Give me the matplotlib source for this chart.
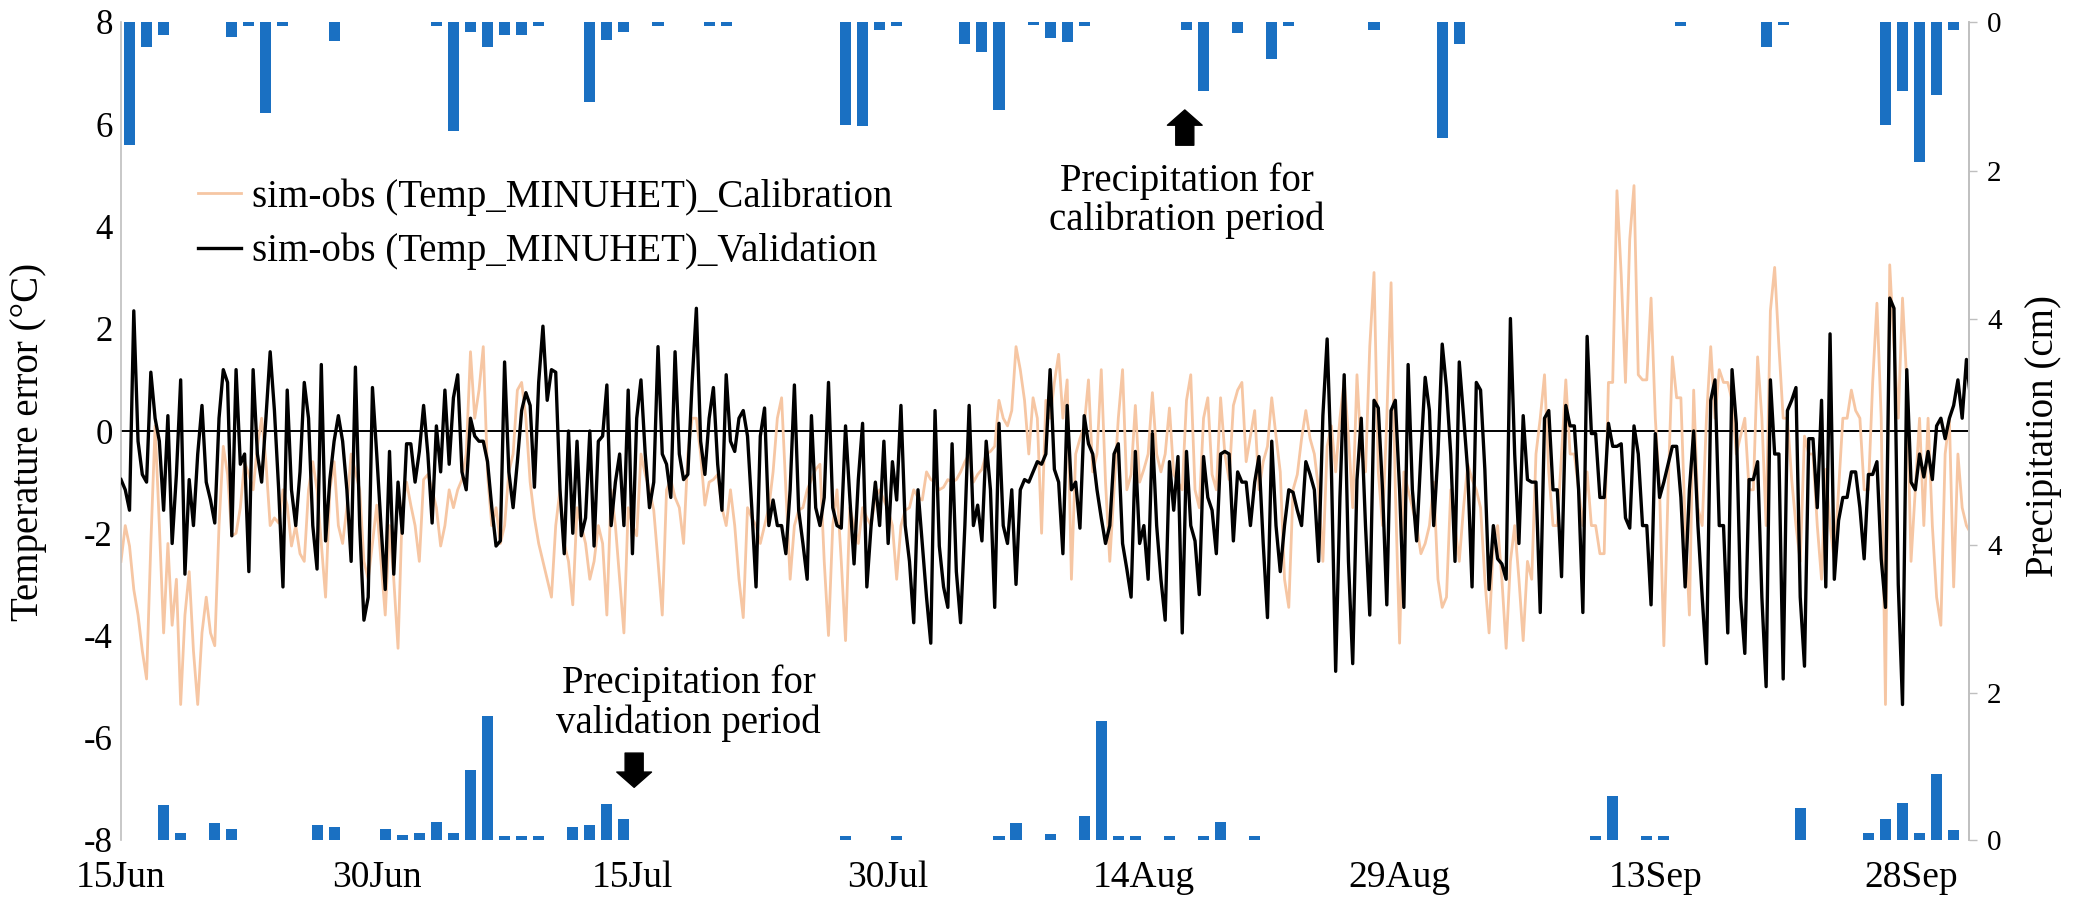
import numpy as np
import matplotlib
matplotlib.use("Agg")
import matplotlib.pyplot as plt

plt.rcParams['font.family'] = 'serif'
plt.rcParams['font.serif'] = ['Liberation Serif', 'Times New Roman', 'DejaVu Serif']

# ---------------- data ----------------
# temperature error (sim - obs), read every 6 h, starting 15 Jun 00:00
STEP_DAYS = 0.25

val_seg1 = [-0.95, -1.15, -1.55, 2.35, -0.2, -0.85, -1.0, 1.15, 0.25, -0.2,
            -1.55, 0.3, -2.2, -0.85, 1.0, -2.8, -0.95, -1.85, -0.45, 0.5,
            -1.0, -1.35, -1.8, 0.25, 1.2, 0.95, -2.05, 1.2, -0.65, -0.45,
            -2.75, 1.2, -0.45, -1.0, 0.25, 1.55, 0.4, -1.15, -3.05, 0.8,
            -1.15, -1.85, -0.8, 0.95, 0.25, -1.85, -2.7, 1.3, -2.15, -0.95,
            -0.2, 0.3, -0.2, -1.15, -2.55, 1.25, -1.85, -3.7, -3.25, 0.85,
            -0.45, -1.85, -3.1, -0.4, -2.8, -1.0, -2.0, -0.25, -0.25, -1.0,
            -0.4, 0.5, -0.45, -1.8, 0.1, -0.8, 0.8, -0.65, 0.65, 1.1,
            -0.8, -1.15, 0.25, -0.1, -0.2, -0.2, -0.6, -1.5, -2.25, -2.15,
            1.35, -0.8, -1.5, -0.6, 0.4, 0.75, 0.5, -1.1, 0.95, 2.05,
            0.6, 1.2, 1.15, -1.15, -2.4, 0.0, -2.0, -0.2, -2.05, -1.7,
            0.0, -2.25, -0.2]
val_seg2 = [-0.1, 0.9, -1.85, -1.0, -0.45, -1.85, 0.8, -2.4, 0.25, 1.0,
            -0.45, -1.5, -1.0, 1.65, -0.45, -0.65, -1.3, 1.55, -0.45, -0.95,
            -0.85, 0.95, 2.4, -0.2, -0.85, 0.25, 0.85, -0.65, -1.55, 1.1,
            -0.2, -0.4, 0.25, 0.4, -0.1, -1.5, -3.05, -0.1, 0.45, -1.85,
            -1.35, -1.85, -1.85, -2.4, -1.15, 0.9, -1.55, -2.2, -2.9, 0.3,
            -1.5, -1.85, -1.3, 0.95, -1.5, -1.85, -1.9, 0.1, -1.3, -2.6,
            -0.95, 0.15, -3.05, -1.85, -1.0, -1.85, -0.2, -2.2, -0.6, -1.35,
            0.5, -1.85, -2.55, -3.75, -1.15, -2.2, -3.25, -4.15, 0.4, -2.25,
            -3.05, -3.45, -0.25, -2.75, -3.75, -1.85, 0.5, -1.85, -1.45, -2.15,
            -0.2, -1.15, -3.45, 0.15, -1.85, -2.2, -1.15, -3.0, -1.15, -0.95,
            -1.0, -0.8, -0.6, -0.65, -0.45, 1.2, -0.75, -1.0, -2.4]
val_seg3 = [0.5, -1.15, -1.0, -1.9, 0.3, -0.25, -0.45, -1.15, -1.7, -2.2,
            -1.85, -0.45, -0.25, -2.2, -2.7, -3.25, -0.4, -2.2, -1.85, -2.9,
            -0.05, -1.85, -2.9, -3.7, -0.6, -1.55, -0.5, -3.95, -0.4, -1.85,
            -2.15, -3.2, -0.5, -1.3, -1.55, -2.4, -0.45, -0.4, -0.45, -2.15,
            -0.8, -1.0, -1.0, -1.85, -1.0, -0.5, -2.2, -3.65, -0.2, -1.85,
            -2.75, -1.85, -1.15, -1.2, -1.55, -1.85, -0.6, -0.85, -1.15, -2.55,
            0.3, 1.8, -0.75, -4.7, -1.3, 1.1, -2.55, -4.55, -0.95, 0.25,
            -1.85, -3.6, 0.6, 0.45, -1.15, -3.4, 0.4, 0.6, -1.15, -3.45,
            1.3, -1.15, -2.15, -0.45, 1.05, 0.4, -1.85, -0.45, 1.7, 0.85,
            -0.45, -2.55, 1.35, 0.3, -0.8, -3.05, 0.95, 0.8, -0.75, -3.1,
            -1.85, -2.5, -2.6, -2.9, 2.2, -0.45, -2.2, 0.3, -0.95, -1.0]
val_seg4 = [-1.0, -3.55, 0.25, 0.4, -1.15, -1.15, -2.85, 0.5, 0.1, 0.1,
            -1.15, -3.55, 1.85, -0.05, -0.05, -1.3, -1.3, 0.15, -0.3, -0.3,
            -0.25, -1.7,
            -1.9, 0.1, -0.45, -1.85, -1.85, -3.4, -0.05, -1.3, -1.0, -0.65,
            -0.3, -0.3, -1.3, -3.05, -1.15, 0.0, -1.85, -3.25, -4.55, 0.6,
            1.0, -1.85, -1.85, -3.95, 1.2, 0.15, -3.25, -4.35, -0.95, -0.95,
            -0.6, -3.25, -5.0, 1.0, -0.45, -0.45, -4.85, 0.4, 0.6, 0.85,
            -3.25, -4.6, -0.15, -0.15, -1.5, 0.6, -3.05, 1.9, -2.9, -1.75,
            -1.3, -1.3, -0.8, -0.8, -1.5, -2.5, -0.85, -0.85, -0.6, -2.5,
            -3.45, 2.6,
            2.4, -3.0, -5.35, 1.2, -1.0, -1.15, -0.45, -0.9, -0.4, -0.95,
            0.1, 0.25, -0.15, 0.25, 0.5, 1.0, 0.25, 1.4, 0.6]

cal_seg1 = [-2.55, -1.85, -2.25, -3.1, -3.6, -4.3, -4.85, -2.2, 0.1, -1.85,
            -3.95, -2.2, -3.8, -2.9, -5.35, -3.6, -2.75, -4.3, -5.35, -3.95,
            -3.25, -3.95, -4.2, -1.85, -0.3, -0.85, -2.05, -2.0, -1.5, -0.6,
            -0.85, -1.15, -0.3, 0.25, -0.6, -1.85, -1.7, -1.8, -1.15, -1.45,
            -2.25, -1.85, -2.4, -2.55, -1.15, -0.6, -1.15, -2.2, -3.25, -1.15,
            -0.6, -1.85, -2.2, -1.5, -0.45, -0.8, -1.15, -2.55, -2.9, -2.2,
            -1.45, -2.55, -3.6, -1.85, -2.9, -4.25, -1.5, -1.0, -1.45, -1.85,
            -2.55, -0.95, -0.85, -1.15, -1.5, -2.25, -1.85, -1.15, -1.5, -1.15,
            -0.95, -0.45, 1.55, 0.25, 0.8, 1.65, -0.85, -1.85, -1.5, -2.2,
            -1.85, -0.8, -0.45, 0.8, 0.95, 0.25, -1.0, -1.7, -2.2, -2.55,
            -2.9, -3.25, -1.85, -1.15, -2.2, -2.55, -3.4, -1.5, -1.85, -2.2,
            -2.9, -2.55, -1.85]
cal_seg2 = [-2.2, -3.6, -1.15, -1.85, -2.9, -3.95, -1.5, -1.85, -2.05, -0.45,
            -0.85, -1.15, -1.55, -2.55, -3.6, -1.15, -0.95, -1.3, -1.5, -2.2,
            -0.45, 0.25, 0.25, -0.45, -1.45, -1.0, -0.95, -0.85, -1.5, -1.85,
            -1.15, -1.85, -2.9, -3.65, -1.5, -1.7, -1.85, -2.2, -1.85, -1.5,
            -0.8, 0.25, 0.65, -1.15, -2.9, -1.85, -1.55, -1.5, -1.15, -0.95,
            -0.75, -0.65, -2.55, -4.0, -1.85, -1.15, -2.55, -4.1, -1.5, -1.85,
            -2.2, -1.5, -1.7, -1.85, -1.3, -1.15, -1.35, -1.55, -1.85, -2.9,
            -1.85, -1.55, -1.5, -1.15, -1.3, -1.35, -0.8, -0.95, -1.0, -1.15,
            -1.1, -0.95, -1.0, -0.95, -0.8, -0.6, -0.45, -1.0, -0.85, -0.75,
            -0.45, -0.4, -0.3, 0.6, 0.25, 0.1, 0.4, 1.65, 1.2, 0.6,
            -0.45, 0.65, 0.25, -2.0, 0.6, 0.25, 0.95, 1.5, 0.25]
cal_seg3 = [1.0, -2.9, -0.45, -0.15, 0.1, 1.0, -0.8, -0.45, 1.2, -1.0,
            -2.55, -1.15, 0.25, 1.2, -1.15, -0.85, 0.5, -1.0, -0.75, -0.45,
            0.75, -0.45, -0.8, -0.45, 0.45, -0.85, -1.0, -1.15, 0.6, 1.1,
            -1.15, -1.5, 0.25, 0.65, -0.85, -1.15, 0.65, -0.45, -0.95, 0.5,
            0.8, 0.95, -0.6, -0.1, 0.4, -1.15, -0.6, -0.3, 0.65, -0.1,
            -0.8, -2.9, -3.45, -1.15, -0.85, -0.15, 0.4, -0.15, -0.45, -1.15,
            -2.55, -0.3, 0.1, -0.8, 0.25, 1.0, -0.1, -1.5, 1.1, -0.45,
            -0.8, 1.65, 3.1, -0.8, -1.85, 0.25, 2.9, -1.15, -4.15, -0.8,
            -1.15, -1.5, -1.85, -2.4, -2.2, -1.85, -1.0, -2.9, -3.45, -3.25,
            -1.15, -1.85, -2.55, -1.5, -0.65, -0.95, -1.15, -1.5, -2.9, -3.95,
            -2.2, -1.85, -2.9, -4.25, -2.55, -1.85, -2.9, -4.1, -2.55, -2.9]
cal_seg4 = [-0.45, 0.25, 1.1, -0.8, -1.85, -1.85, -0.45, 1.0, -0.45, -0.45,
            -1.15, -1.85, -0.8, -1.85, -1.85, -2.4, -2.4, 0.95, 0.95, 4.7,
            3.05, 0.95,
            3.75, 4.8, 1.1, 1.0, 1.0, 2.6, 0.25, -1.15, -4.2, -1.15,
            1.45, 0.65, 0.65, -1.85, -3.6, 0.8, -1.5, -1.85, 0.25, 1.65,
            0.25, 1.2, 0.95, 0.95, 0.6, -0.45, -0.1, 0.25, -1.15, -1.15,
            1.45, 0.25, -1.85, 2.35, 3.2, 1.65, 0.25, 0.25, -0.95, -1.85,
            -2.55, -0.1, -0.45, -0.45, -1.85, -2.9, -0.75, -1.85, -2.55, -1.15,
            0.25, 0.25, 0.8, 0.4, 0.25, -1.15, -1.15, 0.95, 2.5, 0.25,
            -5.35, 3.25,
            1.65, 0.25, 2.6, 0.95, -2.55, -1.15, 0.25, -1.85, 0.25, -1.85,
            -3.25, -3.8, -0.45, 0.25, -3.05, -0.45, -1.5, -1.85, -2.0]

# daily precipitation (cm); day index counted from 15 Jun
precip_cal_days = [0, 1, 2, 6, 7, 8, 9, 12, 18, 19, 20, 21, 22, 23, 24, 27, 28, 29,
                   31, 34, 35, 42, 43, 44, 45, 49, 50, 51, 53, 54, 55, 56, 62, 63,
                   65, 67, 68, 73, 77, 78, 91, 96, 97, 103, 104, 105, 106, 107]
precip_cal_vals = [1.66, 0.33, 0.17, 0.20, 0.05, 1.22, 0.06, 0.26, 0.05, 1.47, 0.13,
                   0.33, 0.17, 0.17, 0.06, 1.08, 0.24, 0.13, 0.05, 0.05, 0.06, 1.38,
                   1.40, 0.11, 0.05, 0.29, 0.40, 1.18, 0.04, 0.22, 0.27, 0.05, 0.11,
                   0.93, 0.15, 0.50, 0.05, 0.11, 1.56, 0.29, 0.05, 0.33, 0.04, 1.38,
                   0.93, 1.88, 0.98, 0.11]
precip_val_days = [2, 3, 5, 6, 11, 12, 15, 16, 17, 18, 19, 20, 21, 22, 23, 24, 26, 27,
                   28, 29, 42, 45, 51, 52, 54, 56, 57, 58, 59, 61, 63, 64, 66, 86, 87,
                   89, 90, 98, 102, 103, 104, 105, 106, 107]
precip_val_vals = [0.47, 0.10, 0.23, 0.15, 0.21, 0.18, 0.15, 0.07, 0.09, 0.24, 0.09,
                   0.95, 1.68, 0.06, 0.06, 0.06, 0.18, 0.21, 0.49, 0.29, 0.06, 0.06,
                   0.06, 0.23, 0.08, 0.32, 1.61, 0.05, 0.05, 0.05, 0.05, 0.24, 0.06,
                   0.06, 0.60, 0.06, 0.06, 0.43, 0.09, 0.29, 0.50, 0.09, 0.90, 0.13]

x_tick_days = [0, 15, 30, 45, 60, 75, 90, 105]
x_tick_labels = ['15Jun', '30Jun', '15Jul', '30Jul', '14Aug', '29Aug', '13Sep', '28Sep']
temp_ticks = [-8, -6, -4, -2, 0, 2, 4, 6, 8]
precip_ticks = [0, 2, 4]

label_cal = 'sim-obs (Temp_MINUHET)_Calibration'
label_val = 'sim-obs (Temp_MINUHET)_Validation'

# ---------------- figure ----------------
W, H = 2074, 910
fig = plt.figure(figsize=(W / 100, H / 100), dpi=100)
L, R, T, B = 121, 1969, 22, 840
ax = fig.add_axes([L / W, 1 - B / H, (R - L) / W, (B - T) / H])

black_series = np.array(val_seg1 + val_seg2 + val_seg3 + val_seg4)
cal_series = np.array(cal_seg1 + cal_seg2 + cal_seg3 + cal_seg4)
t_black = np.arange(len(black_series)) * STEP_DAYS
t_cal = np.arange(len(cal_series)) * STEP_DAYS

ORANGE = '#F6C6A3'
BLUE = '#1A70C2'
GRAY = '#BFBFBF'

ax.axhline(0, color='black', lw=1.4, zorder=1)
l_cal, = ax.plot(t_cal, cal_series, color=ORANGE, lw=2.0, zorder=2, label=label_cal)
l_val, = ax.plot(t_black, black_series, color='black', lw=2.4, zorder=3, label=label_val)

XMAX = 108.4
ax.set_xlim(0, XMAX)
ax.set_ylim(-8, 8)
ax.set_yticks(temp_ticks)
ax.set_yticklabels([str(v) for v in temp_ticks])
ax.set_xticks(x_tick_days)
ax.set_xticklabels(x_tick_labels)
ax.tick_params(axis='x', length=0, labelsize=27, pad=15)
ax.tick_params(axis='y', length=0, labelsize=25, pad=6)
for s in ['top', 'bottom', 'right']:
    ax.spines[s].set_visible(False)
ax.spines['left'].set_color(GRAY)
ax.spines['left'].set_linewidth(1.2)

# precipitation axes (both on the right)
ax_top = ax.twinx()
ax_top.bar(np.array(precip_cal_days) + 0.5, precip_cal_vals, width=0.65, color=BLUE, zorder=2)
ax_top.set_ylim(11.0, 0)
ax_top.set_yticks(precip_ticks)

ax_bot = ax.twinx()
ax_bot.bar(np.array(precip_val_days) + 0.5, precip_val_vals, width=0.65, color=BLUE, zorder=2)
ax_bot.set_ylim(0, 11.1)
ax_bot.set_yticks(precip_ticks)

for a in (ax_top, ax_bot):
    for s in ['top', 'bottom', 'left']:
        a.spines[s].set_visible(False)
    a.spines['right'].set_color(GRAY)
    a.spines['right'].set_linewidth(1.2)
    a.tick_params(axis='y', length=6, width=1, color=GRAY, direction='out',
                  labelsize=21, pad=7)
    a.set_xlim(0, XMAX)

# axis titles
fig.text(29 / W, 1 - 442 / H, 'Temperature error (\u00b0C)', rotation=90,
         ha='center', va='center', fontsize=28)
fig.text(2043 / W, 1 - 436 / H, 'Precipitation (cm)', rotation=90,
         ha='center', va='center', fontsize=28)

# legend
ax.legend(handles=[l_cal, l_val], loc='upper left',
          bbox_to_anchor=(198 / W, 1 - 178 / H), bbox_transform=fig.transFigure,
          frameon=False, fontsize=28, handlelength=1.1, handletextpad=0.3,
          borderpad=0, borderaxespad=0, labelspacing=0.45)

# annotations
ax.text(62.5, 4.5, 'Precipitation for\ncalibration period', ha='center', va='center',
        fontsize=28, linespacing=1.05, zorder=5)
ax.annotate('', xy=(62.4, 6.28), xytext=(62.4, 5.59),
            arrowprops=dict(facecolor='black', edgecolor='black', width=13,
                            headwidth=25, headlength=11, shrink=0))
ax.text(33.3, -5.33, 'Precipitation for\nvalidation period', ha='center', va='center',
        fontsize=28, linespacing=1.1, zorder=5)
ax.annotate('', xy=(30.1, -6.97), xytext=(30.1, -6.30),
            arrowprops=dict(facecolor='black', edgecolor='black', width=13,
                            headwidth=25, headlength=11, shrink=0))

fig.savefig('out.png', dpi=100)
